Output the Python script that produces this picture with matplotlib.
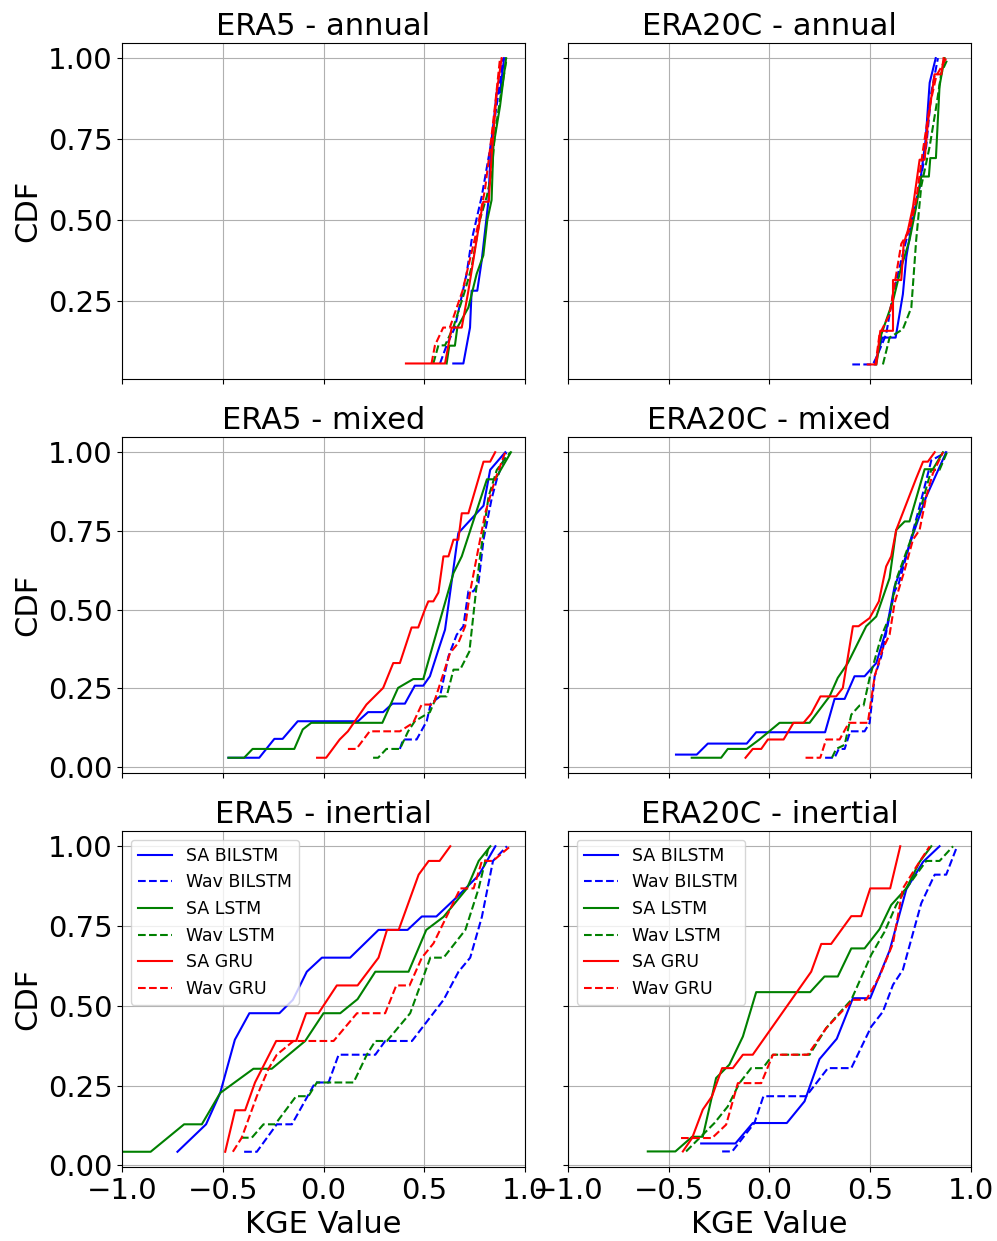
import matplotlib
matplotlib.use("Agg")
import matplotlib.pyplot as plt
import numpy as np

# CDF curves: (KGE value, CDF) vertices per model
labels = ["SA BILSTM", "Wav BILSTM", "SA LSTM", "Wav LSTM", "SA GRU", "Wav GRU"]
colors = ["blue", "blue", "green", "green", "red", "red"]
styles = ["-", "--", "-", "--", "-", "--"]
titles = ["ERA5 - annual", "ERA20C - annual", "ERA5 - mixed", "ERA20C - mixed",
          "ERA5 - inertial", "ERA20C - inertial"]

# ---- ERA5 annual ----
e5_ann_sa_bilstm = [(0.644, 0.056), (0.694, 0.056), (0.727, 0.167), (0.735, 0.281), (0.763, 0.281),
                    (0.785, 0.374), (0.818, 0.556), (0.829, 0.706), (0.859, 0.893), (0.876, 0.893),
                    (0.896, 1.0)]
e5_ann_wav_bilstm = [(0.578, 0.056), (0.611, 0.112), (0.652, 0.167), (0.71, 0.333), (0.735, 0.437),
                     (0.785, 0.572), (0.826, 0.717), (0.859, 0.852), (0.892, 1.0)]
e5_ann_sa_lstm = [(0.611, 0.056), (0.624, 0.111), (0.652, 0.111), (0.664, 0.167), (0.719, 0.229),
                  (0.76, 0.333), (0.793, 0.39), (0.813, 0.5), (0.834, 0.561), (0.843, 0.727),
                  (0.876, 0.852), (0.906, 1.0)]
e5_ann_wav_lstm = [(0.545, 0.056), (0.57, 0.112), (0.603, 0.112), (0.644, 0.167), (0.702, 0.281),
                   (0.735, 0.354), (0.776, 0.5), (0.81, 0.572), (0.834, 0.644), (0.851, 0.769),
                   (0.884, 0.904), (0.909, 1.0)]
e5_ann_sa_gru = [(0.409, 0.056), (0.603, 0.056), (0.636, 0.167), (0.686, 0.167), (0.719, 0.281),
                 (0.776, 0.5), (0.793, 0.556), (0.82, 0.556), (0.834, 0.696), (0.859, 0.893),
                 (0.884, 1.0)]
e5_ann_wav_gru = [(0.536, 0.056), (0.553, 0.112), (0.594, 0.167), (0.627, 0.167), (0.69, 0.281),
                  (0.765, 0.479), (0.801, 0.592), (0.826, 0.717), (0.851, 0.852), (0.876, 1.0)]

# ---- ERA20C annual ----
e20_ann_sa_bilstm = [(0.522, 0.053), (0.56, 0.136), (0.626, 0.136), (0.662, 0.27), (0.679, 0.385),
                     (0.704, 0.478), (0.745, 0.603), (0.775, 0.748), (0.795, 0.924), (0.825, 1.0)]
e20_ann_wav_bilstm = [(0.411, 0.053), (0.513, 0.053), (0.53, 0.074), (0.579, 0.146), (0.613, 0.27),
                      (0.662, 0.395), (0.695, 0.478), (0.745, 0.603), (0.778, 0.727), (0.803, 0.893),
                      (0.836, 1.0)]
e20_ann_sa_lstm = [(0.53, 0.053), (0.555, 0.146), (0.613, 0.25), (0.654, 0.354), (0.695, 0.437),
                   (0.728, 0.54), (0.753, 0.634), (0.791, 0.634), (0.798, 0.691), (0.826, 0.691),
                   (0.844, 0.914), (0.869, 1.0)]
e20_ann_wav_lstm = [(0.563, 0.053), (0.596, 0.136), (0.662, 0.162), (0.704, 0.229), (0.728, 0.437),
                    (0.753, 0.603), (0.795, 0.727), (0.828, 0.852), (0.853, 0.955), (0.886, 1.0)]
e20_ann_sa_gru = [(0.488, 0.053), (0.53, 0.053), (0.55, 0.157), (0.613, 0.157), (0.613, 0.314),
                  (0.654, 0.314), (0.666, 0.426), (0.687, 0.468), (0.712, 0.54), (0.745, 0.686),
                  (0.77, 0.686), (0.786, 0.8), (0.819, 0.95), (0.853, 0.95), (0.864, 1.0)]
e20_ann_wav_gru = [(0.526, 0.053), (0.546, 0.146), (0.596, 0.208), (0.654, 0.426), (0.695, 0.468),
                   (0.728, 0.561), (0.762, 0.717), (0.795, 0.852), (0.828, 0.945), (0.877, 1.0)]

# ---- ERA5 mixed ----
e5_mix_sa_bilstm = [(-0.472, 0.029), (-0.319, 0.029), (-0.244, 0.089), (-0.203, 0.089), (-0.128, 0.145),
                    (0.171, 0.145), (0.221, 0.174), (0.296, 0.174), (0.342, 0.201), (0.404, 0.201),
                    (0.453, 0.258), (0.495, 0.258), (0.528, 0.288), (0.57, 0.372), (0.603, 0.436),
                    (0.669, 0.743), (0.794, 0.83), (0.827, 0.944), (0.902, 1.0)]
e5_mix_wav_bilstm = [(0.379, 0.057), (0.395, 0.087), (0.462, 0.087), (0.512, 0.145), (0.532, 0.201),
                     (0.578, 0.224), (0.62, 0.351), (0.661, 0.42), (0.694, 0.447), (0.719, 0.558),
                     (0.744, 0.558), (0.769, 0.584), (0.794, 0.722), (0.835, 0.854), (0.86, 0.914),
                     (0.907, 1.0)]
e5_mix_sa_lstm = [(-0.472, 0.029), (-0.394, 0.029), (-0.352, 0.057), (-0.145, 0.057), (-0.103, 0.119),
                  (-0.061, 0.14), (0.292, 0.14), (0.37, 0.251), (0.445, 0.279), (0.495, 0.279),
                  (0.645, 0.616), (0.686, 0.669), (0.811, 0.914), (0.852, 0.914), (0.93, 1.0)]
e5_mix_wav_lstm = [(0.246, 0.029), (0.271, 0.029), (0.312, 0.057), (0.379, 0.057), (0.42, 0.113),
                   (0.453, 0.145), (0.528, 0.174), (0.561, 0.224), (0.611, 0.224), (0.645, 0.309),
                   (0.678, 0.309), (0.724, 0.367), (0.761, 0.584), (0.777, 0.669), (0.819, 0.859),
                   (0.86, 0.944), (0.927, 1.0)]
e5_mix_sa_gru = [(-0.032, 0.029), (0.013, 0.029), (0.08, 0.087), (0.121, 0.113), (0.213, 0.198),
                 (0.296, 0.251), (0.346, 0.33), (0.379, 0.33), (0.437, 0.443), (0.47, 0.443),
                 (0.503, 0.5), (0.52, 0.526), (0.545, 0.526), (0.57, 0.554), (0.595, 0.669),
                 (0.62, 0.669), (0.645, 0.722), (0.669, 0.722), (0.686, 0.806), (0.719, 0.806),
                 (0.794, 0.97), (0.827, 0.97), (0.852, 1.0)]
e5_mix_wav_gru = [(0.121, 0.057), (0.163, 0.057), (0.229, 0.113), (0.379, 0.113), (0.445, 0.14),
                  (0.487, 0.198), (0.545, 0.198), (0.628, 0.362), (0.669, 0.394), (0.703, 0.447),
                  (0.728, 0.558), (0.761, 0.669), (0.803, 0.808), (0.852, 0.914), (0.902, 1.0)]

# ---- ERA20C mixed ----
e20_mix_sa_bilstm = [(-0.464, 0.039), (-0.361, 0.039), (-0.306, 0.074), (-0.113, 0.074), (-0.066, 0.11),
                     (0.276, 0.11), (0.323, 0.216), (0.373, 0.216), (0.422, 0.288), (0.472, 0.288),
                     (0.53, 0.33), (0.58, 0.436), (0.621, 0.574), (0.671, 0.658), (0.712, 0.738),
                     (0.778, 0.859), (0.877, 1.0)]
e20_mix_wav_bilstm = [(0.276, 0.029), (0.323, 0.029), (0.344, 0.057), (0.373, 0.057), (0.401, 0.113),
                      (0.472, 0.113), (0.497, 0.14), (0.522, 0.288), (0.555, 0.351), (0.621, 0.558),
                      (0.642, 0.584), (0.679, 0.669), (0.745, 0.828), (0.803, 0.974), (0.877, 1.0)]
e20_mix_sa_lstm = [(-0.386, 0.029), (-0.24, 0.029), (-0.207, 0.057), (-0.113, 0.057), (-0.05, 0.087),
                   (0.05, 0.14), (0.199, 0.14), (0.298, 0.224), (0.339, 0.283), (0.389, 0.33),
                   (0.48, 0.447), (0.53, 0.478), (0.596, 0.6), (0.629, 0.753), (0.671, 0.78),
                   (0.695, 0.78), (0.77, 0.946), (0.811, 0.946), (0.861, 1.0)]
e20_mix_wav_lstm = [(0.31, 0.029), (0.331, 0.057), (0.373, 0.07), (0.406, 0.166), (0.447, 0.195),
                    (0.467, 0.195), (0.497, 0.283), (0.555, 0.415), (0.596, 0.478), (0.629, 0.595),
                    (0.704, 0.727), (0.753, 0.828), (0.803, 0.944), (0.844, 0.944), (0.881, 1.0)]
e20_mix_sa_gru = [(-0.119, 0.029), (-0.083, 0.057), (-0.041, 0.057), (-0.008, 0.087), (0.07, 0.087),
                  (0.119, 0.14), (0.169, 0.14), (0.207, 0.169), (0.253, 0.224), (0.331, 0.224),
                  (0.364, 0.251), (0.414, 0.447), (0.442, 0.447), (0.497, 0.473), (0.543, 0.526),
                  (0.579, 0.637), (0.604, 0.669), (0.629, 0.753), (0.728, 0.917), (0.762, 0.97),
                  (0.786, 0.97), (0.82, 1.0)]
e20_mix_wav_gru = [(0.179, 0.029), (0.252, 0.029), (0.281, 0.087), (0.348, 0.087), (0.394, 0.14),
                   (0.488, 0.14), (0.522, 0.288), (0.56, 0.372), (0.596, 0.42), (0.621, 0.521),
                   (0.671, 0.626), (0.712, 0.722), (0.745, 0.753), (0.778, 0.859), (0.811, 0.933),
                   (0.861, 1.0)]

# ---- ERA5 inertial ----
e5_ine_sa_bilstm = [(-0.725, 0.043), (-0.583, 0.129), (-0.513, 0.227), (-0.44, 0.394), (-0.368, 0.477),
                    (-0.219, 0.477), (-0.152, 0.519), (-0.083, 0.607), (-0.008, 0.651), (0.132, 0.651),
                    (0.273, 0.738), (0.417, 0.738), (0.488, 0.78), (0.56, 0.78), (0.654, 0.836),
                    (0.77, 0.909), (0.853, 1.0)]
e5_ine_wav_bilstm = [(-0.394, 0.043), (-0.331, 0.043), (-0.232, 0.129), (-0.157, 0.129), (-0.041, 0.26),
                     (0.025, 0.26), (0.075, 0.347), (0.257, 0.347), (0.306, 0.39), (0.439, 0.39),
                     (0.596, 0.519), (0.67, 0.607), (0.728, 0.651), (0.786, 0.779), (0.841, 0.954),
                     (0.91, 1.0)]
e5_ine_sa_lstm = [(-1.02, 0.043), (-0.858, 0.043), (-0.692, 0.129), (-0.604, 0.129), (-0.513, 0.227),
                  (-0.348, 0.303), (-0.257, 0.303), (-0.091, 0.39), (0.0, 0.477), (0.083, 0.477),
                  (0.169, 0.521), (0.257, 0.607), (0.422, 0.607), (0.51, 0.738), (0.596, 0.779),
                  (0.712, 0.868), (0.77, 0.954), (0.828, 1.0)]
e5_ine_wav_lstm = [(-0.41, 0.087), (-0.356, 0.087), (-0.298, 0.129), (-0.24, 0.129), (-0.136, 0.217),
                   (-0.075, 0.217), (-0.033, 0.26), (0.149, 0.26), (0.215, 0.347), (0.257, 0.39),
                   (0.315, 0.39), (0.43, 0.477), (0.53, 0.651), (0.596, 0.651), (0.704, 0.738),
                   (0.77, 0.868), (0.82, 1.0)]
e5_ine_sa_gru = [(-0.488, 0.043), (-0.439, 0.173), (-0.389, 0.173), (-0.34, 0.26), (-0.235, 0.39),
                 (-0.136, 0.39), (-0.086, 0.477), (-0.025, 0.477), (0.066, 0.564), (0.169, 0.564),
                 (0.273, 0.651), (0.315, 0.738), (0.373, 0.738), (0.472, 0.911), (0.522, 0.954),
                 (0.576, 0.954), (0.629, 1.0)]
e5_ine_wav_gru = [(-0.45, 0.043), (-0.406, 0.087), (-0.331, 0.217), (-0.273, 0.303), (-0.232, 0.347),
                  (-0.149, 0.39), (0.05, 0.39), (0.166, 0.477), (0.306, 0.477), (0.361, 0.564),
                  (0.427, 0.564), (0.488, 0.651), (0.546, 0.696), (0.679, 0.868), (0.745, 0.868),
                  (0.786, 0.954), (0.841, 0.954), (0.927, 1.0)]

# ---- ERA20C inertial ----
e20_ine_sa_bilstm = [(-0.339, 0.069), (-0.169, 0.069), (-0.083, 0.133), (0.086, 0.133), (0.174, 0.201),
                     (0.248, 0.333), (0.334, 0.397), (0.414, 0.524), (0.5, 0.524), (0.596, 0.673),
                     (0.679, 0.865), (0.762, 0.951), (0.844, 1.0)]
e20_ine_wav_bilstm = [(-0.235, 0.044), (-0.185, 0.044), (-0.075, 0.133), (-0.03, 0.217), (0.182, 0.217),
                      (0.29, 0.305), (0.406, 0.305), (0.505, 0.435), (0.563, 0.482), (0.613, 0.566),
                      (0.662, 0.613), (0.753, 0.821), (0.82, 0.911), (0.877, 0.911), (0.927, 0.993)]
e20_ine_sa_lstm = [(-0.604, 0.044), (-0.467, 0.044), (-0.384, 0.09), (-0.331, 0.09), (-0.265, 0.274),
                   (-0.199, 0.316), (-0.132, 0.404), (-0.066, 0.543), (0.202, 0.543), (0.273, 0.592),
                   (0.339, 0.592), (0.406, 0.68), (0.472, 0.68), (0.546, 0.74), (0.604, 0.816),
                   (0.679, 0.868), (0.745, 0.951), (0.803, 1.0)]
e20_ine_wav_lstm = [(-0.414, 0.044), (-0.273, 0.133), (-0.207, 0.185), (-0.149, 0.258), (-0.091, 0.305),
                    (-0.033, 0.305), (0.017, 0.347), (0.199, 0.347), (0.281, 0.43), (0.339, 0.472),
                    (0.406, 0.519), (0.505, 0.66), (0.571, 0.732), (0.629, 0.816), (0.679, 0.868),
                    (0.778, 0.954), (0.844, 0.954), (0.911, 1.0)]
e20_ine_sa_gru = [(-0.43, 0.044), (-0.384, 0.086), (-0.331, 0.175), (-0.285, 0.217), (-0.235, 0.305),
                  (-0.182, 0.305), (-0.132, 0.347), (-0.083, 0.347), (0.207, 0.607), (0.257, 0.694),
                  (0.306, 0.694), (0.406, 0.781), (0.455, 0.781), (0.5, 0.868), (0.599, 0.868),
                  (0.649, 1.0)]
e20_ine_wav_gru = [(-0.439, 0.086), (-0.285, 0.086), (-0.215, 0.128), (-0.157, 0.258), (-0.041, 0.258),
                   (0.017, 0.347), (0.19, 0.347), (0.281, 0.43), (0.414, 0.519), (0.48, 0.519),
                   (0.546, 0.592), (0.613, 0.696), (0.662, 0.868), (0.728, 0.935), (0.795, 1.0)]

panels = [
    [e5_ann_sa_bilstm, e5_ann_wav_bilstm, e5_ann_sa_lstm, e5_ann_wav_lstm, e5_ann_sa_gru, e5_ann_wav_gru],
    [e20_ann_sa_bilstm, e20_ann_wav_bilstm, e20_ann_sa_lstm, e20_ann_wav_lstm, e20_ann_sa_gru, e20_ann_wav_gru],
    [e5_mix_sa_bilstm, e5_mix_wav_bilstm, e5_mix_sa_lstm, e5_mix_wav_lstm, e5_mix_sa_gru, e5_mix_wav_gru],
    [e20_mix_sa_bilstm, e20_mix_wav_bilstm, e20_mix_sa_lstm, e20_mix_wav_lstm, e20_mix_sa_gru, e20_mix_wav_gru],
    [e5_ine_sa_bilstm, e5_ine_wav_bilstm, e5_ine_sa_lstm, e5_ine_wav_lstm, e5_ine_sa_gru, e5_ine_wav_gru],
    [e20_ine_sa_bilstm, e20_ine_wav_bilstm, e20_ine_sa_lstm, e20_ine_wav_lstm, e20_ine_sa_gru, e20_ine_wav_gru],
]

fig, axes = plt.subplots(3, 2, figsize=(9.97, 12.41), dpi=100, sharex=True, sharey="row")

# place axes to match the reference layout
lefts = [0.1224, 0.5697]
bottoms = [0.6946, 0.3771, 0.0596]
w, h = 0.4042, 0.2708

for i, ax in enumerate(axes.flat):
    r, c = divmod(i, 2)
    ax.set_position([lefts[c], bottoms[r], w, h])
    for pts, lab, col, ls in zip(panels[i], labels, colors, styles):
        arr = np.array(pts)
        ax.plot(arr[:, 0], arr[:, 1], color=col, linestyle=ls, linewidth=1.5, label=lab)
    ax.set_title(titles[i], fontsize=22)
    ax.grid(True)
    ax.tick_params(labelsize=21)
    if c == 0:
        ax.set_ylabel("CDF", fontsize=22)
    if r == 2:
        ax.set_xlabel("KGE Value", fontsize=22)
        ax.legend(loc="upper left", fontsize=12.5)

axes[0, 0].set_xlim(-1, 1)
axes[0, 0].set_xticks([-1.0, -0.5, 0.0, 0.5, 1.0])
# top row has no 0.00 tick in the reference
axes[0, 0].set_yticks([0.25, 0.5, 0.75, 1.0])
axes[0, 0].set_ylim(0.008, 1.047)
axes[1, 0].set_yticks([0.0, 0.25, 0.5, 0.75, 1.0])
axes[2, 0].set_yticks([0.0, 0.25, 0.5, 0.75, 1.0])

fig.savefig("out.png", dpi=100)
